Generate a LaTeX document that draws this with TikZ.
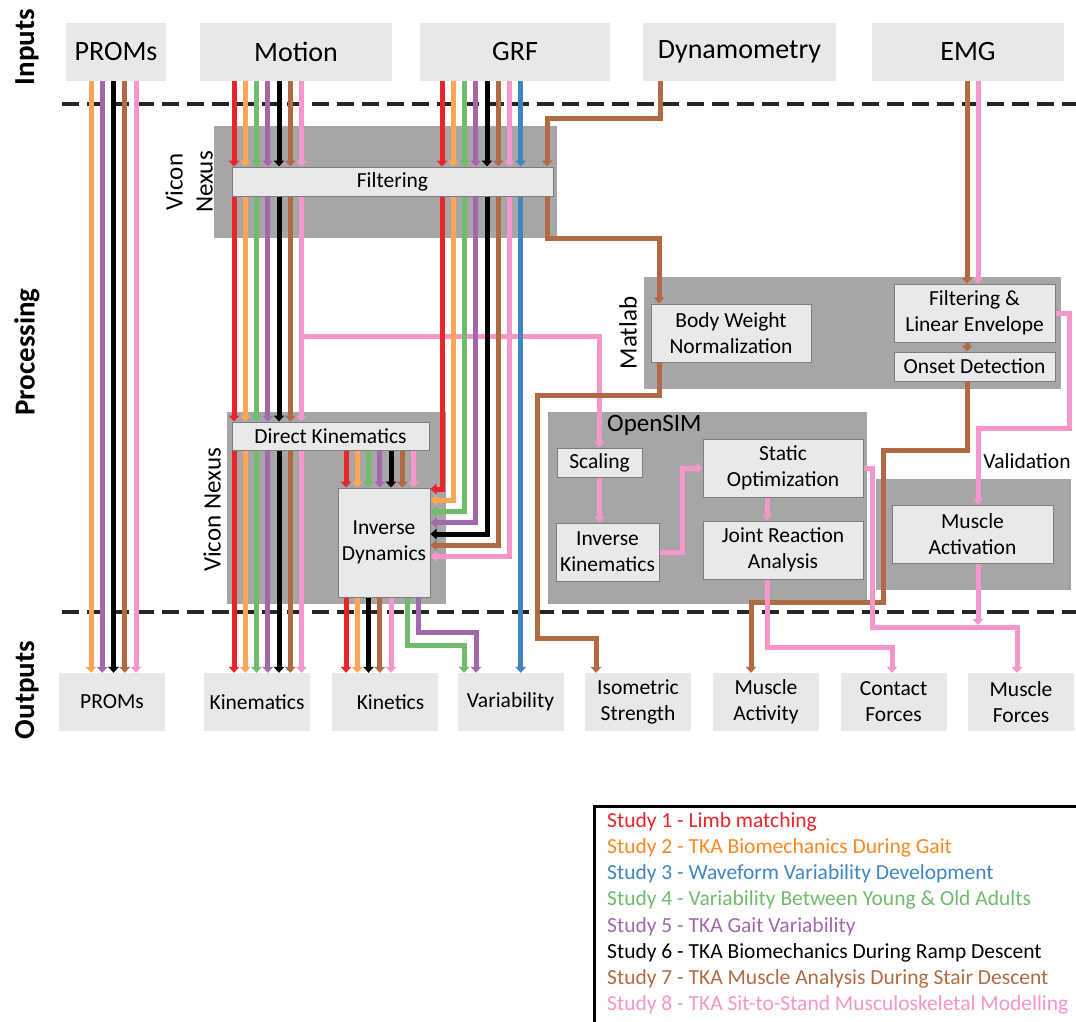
\documentclass[tikz,border=0pt]{standalone}
\usepackage{fontspec}
\setmainfont{Carlito}
\usetikzlibrary{arrows.meta}

\definecolor{studyRed}{RGB}{232,37,42}
\definecolor{studyOrange}{RGB}{255,165,85}
\definecolor{studyBlue}{RGB}{64,134,195}
\definecolor{studyGreen}{RGB}{112,188,108}
\definecolor{studyPurple}{RGB}{162,103,172}
\definecolor{studyBlack}{RGB}{0,0,0}
\definecolor{studyBrown}{RGB}{177,106,66}
\definecolor{studyPink}{RGB}{247,150,200}
\definecolor{legendOrange}{RGB}{252,136,32}
\definecolor{groupGray}{RGB}{166,166,166}
\definecolor{boxGray}{RGB}{233,233,233}
\definecolor{edgeGray}{RGB}{125,125,125}
\definecolor{ioGray}{RGB}{232,232,232}
\definecolor{sepGray}{RGB}{38,38,38}

\begin{document}
\begin{tikzpicture}[x=1pt, y=-1pt]
	\tikzset{
		every node/.style={font=\fontsize{21.5}{26}\selectfont, inner sep=0pt},
		io_box/.style={fill=ioGray, minimum width=106pt, minimum height=58pt, align=center},
		input_box/.style={io_box, font=\fontsize{28}{32}\selectfont},
		group_box/.style={fill=groupGray},
		step_box/.style={fill=boxGray, draw=edgeGray, line width=1pt, align=center},
		side_label/.style={rotate=90, font=\fontsize{29}{34}\selectfont\bfseries},
		tool_label/.style={font=\fontsize{25}{30}\selectfont, align=center},
		lane/.style={line width=5pt},
		flow_line/.style={lane, -{Triangle[width=10.5pt,length=6pt]}},
		stage_sep/.style={draw=sepGray, line width=4pt, dash pattern=on 17pt off 8pt}
	}
	\useasboundingbox (0,0) rectangle (1076,1021);
	\clip (0,0) rectangle (1076,1021);
	\fill[white] (0,0) rectangle (1076,1021);

	% stages
	\node[side_label] (labIn) at (27,47) {Inputs};
	\node[side_label] (labProc) at (27,352) {Processing};
	\node[side_label] (labOut) at (27,690) {Outputs};
	\draw[stage_sep] (62,104) -- (1076,104);
	\draw[stage_sep] (62,612) -- (1076,612);

	% inputs
	\node[input_box, minimum width=100pt] (inProms) at (116,52) {PROMs};
	\node[input_box, minimum width=192pt] (inMotion) at (296,52) {Motion};
	\node[input_box, minimum width=190pt] (inGRF) at (515,52) {GRF};
	\node[input_box, minimum width=193pt] (inDyn) at (739.5,52) {Dynamometry};
	\node[input_box, minimum width=192pt] (inEMG) at (968,52) {EMG};

	% outputs
	\node[io_box] (outProms) at (112,702) {PROMs};
	\node[io_box] (outKinem) at (257,702) {Kinematics};
	\node[io_box] (outKinet) at (384.5,702) {\hspace*{12pt}Kinetics};
	\node[io_box] (outVar) at (510.5,702) {Variability};
	\node[io_box] (outIso) at (638,702) {Isometric\\Strength};
	\node[io_box] (outMAct) at (766,702) {Muscle\\Activity};
	\node[io_box] (outCont) at (893.5,702) {Contact\\Forces};
	\node[io_box] (outMForce) at (1021,702) {Muscle\\Forces};

	% software groups
	\node[group_box, minimum width=343pt, minimum height=112pt] (gNexusTop) at (385.5,182) {};
	\node[group_box, minimum width=219pt, minimum height=192pt] (gNexusLow) at (336.5,508) {};
	\node[group_box, minimum width=417pt, minimum height=112pt] (gMatlab) at (852.5,333) {};
	\node[group_box, minimum width=319pt, minimum height=192pt] (gOpenSim) at (707.5,508) {};
	\node[group_box, minimum width=195pt, minimum height=111pt] (gValid) at (973.5,534.5) {};
	\node[tool_label, rotate=90] (labNexusTop) at (189,182) {Vicon\\Nexus};
	\node[tool_label, rotate=90] (labNexusLow) at (212,510) {Vicon Nexus};
	\node[tool_label, rotate=90] (labMatlab) at (628,333) {Matlab};
	\node[tool_label, anchor=west] (labOpenSim) at (607,425) {OpenSIM};
	\node (labValid) at (1027,461) {Validation};

	% processing steps
	\node[step_box, minimum width=321pt, minimum height=29pt] (filt) at (392.5,181.5) {Filtering};
	\node[step_box, minimum width=197pt, minimum height=28pt] (dirKin) at (330.5,436) {Direct Kinematics};
	\node[step_box, minimum width=92pt, minimum height=109pt] (invDyn) at (384,542.5) {Inverse\\Dynamics};
	\node[step_box, minimum width=160pt, minimum height=58pt] (bwNorm) at (731,333) {Body Weight\\Normalization};
	\node[step_box, minimum width=161pt, minimum height=58pt] (filtEnv) at (974.5,313) {Filtering \&\\Linear Envelope};
	\node[step_box, minimum width=161pt, minimum height=29pt] (onset) at (974.5,366.5) {Onset Detection};
	\node[step_box, minimum width=85pt, minimum height=29pt] (scaling) at (599.5,462.5) {Scaling};
	\node[step_box, minimum width=103pt, minimum height=58pt] (invKin) at (607.5,552) {Inverse\\Kinematics};
	\node[step_box, minimum width=160pt, minimum height=58pt] (statOpt) at (783,468) {Static\\Optimization};
	\node[step_box, minimum width=160pt, minimum height=58pt] (jra) at (783,550) {Joint Reaction\\Analysis};
	\node[step_box, minimum width=161pt, minimum height=58pt] (mAct) at (972.5,534) {Muscle\\Activation};

	% PROMs pass straight through
	\foreach \x/\col in {91/studyOrange, 102.25/studyPurple, 113.5/studyBlack, 124.75/studyBrown, 136/studyPink}
		\draw[flow_line, \col] (inProms.south -| \x,0) -- (outProms.north -| \x,0);

	% motion data
	\coordinate (pinkSplit) at (301.5,336);
	\draw[flow_line, studyPink] (pinkSplit) -| (scaling.north);
	\foreach \x/\col in {234/studyRed, 245.25/studyOrange, 256.5/studyGreen, 267.75/studyPurple, 279/studyBlack, 290.25/studyBrown, 301.5/studyPink} {
		\draw[flow_line, \col] (inMotion.south -| \x,0) -- (filt.north -| \x,0);
		\draw[flow_line, \col] (filt.south -| \x,0) -- (dirKin.north -| \x,0);
		\draw[flow_line, \col] (dirKin.south -| \x,0) -- (outKinem.north -| \x,0);
	}
	\foreach \x/\col in {346/studyRed, 357.25/studyOrange, 368.5/studyGreen, 379.75/studyPurple, 391/studyBlack, 402.25/studyBrown, 413.5/studyPink}
		\draw[flow_line, \col] (dirKin.south -| \x,0) -- (invDyn.north -| \x,0);

	% ground reaction forces
	\foreach \x/\y/\col in {442/489/studyRed, 453.25/500.25/studyOrange, 464.5/511.5/studyGreen, 475.75/522.75/studyPurple, 487/534/studyBlack, 498.25/545.25/studyBrown, 509.5/556.5/studyPink} {
		\draw[flow_line, \col] (inGRF.south -| \x,0) -- (filt.north -| \x,0);
		\draw[flow_line, \col] (filt.south -| \x,0) |- (invDyn.east |- 0,\y);
	}
	\draw[flow_line, studyBlue] (inGRF.south -| 520.75,0) -- (filt.north -| 520.75,0);
	\draw[flow_line, studyBlue] (filt.south -| 520.75,0) -- (outVar.north -| 520.75,0);

	% inverse dynamics outputs
	\foreach \x/\col in {346/studyRed, 357.25/studyOrange, 368.5/studyBlack, 379.75/studyBrown, 391/studyPink}
		\draw[flow_line, \col] (invDyn.south -| \x,0) -- (outKinet.north -| \x,0);
	\draw[flow_line, studyGreen] (invDyn.south -| 407,0) -- ++(0,48) -| (outVar.north -| 464,0);
	\draw[flow_line, studyPurple] (invDyn.south -| 418.5,0) -- ++(0,35) -| (outVar.north -| 476,0);

	% dynamometry
	\draw[flow_line, studyBrown] (inDyn.south -| 660,0) -- ++(0,37) -| (filt.north -| 547,0);
	\draw[flow_line, studyBrown] (filt.south -| 547,0) -- ++(0,42) -| (bwNorm.north -| 659,0);
	\draw[flow_line, studyBrown] (bwNorm.south -| 659,0) -- ++(0,33) -| ++(-122,243) -| (outIso.north -| 596,0);

	% EMG
	\draw[flow_line, studyBrown] (inEMG.south -| 967,0) -- (filtEnv.north -| 967,0);
	\draw[flow_line, studyPink] (inEMG.south -| 978,0) -- (filtEnv.north -| 978,0);
	\draw[flow_line, studyBrown] (filtEnv.south -| 967,0) -- (onset.north -| 967,0);
	\draw[flow_line, studyBrown] (onset.south -| 967,0) -- ++(0,69) -| ++(-84,152) -| (outMAct.north -| 751,0);
	\draw[flow_line, studyPink] (filtEnv.east) -- ++(14,0) -- ++(0,115) -| (mAct.north -| 978,0);

	% OpenSIM chain
	\draw[flow_line, studyPink] (scaling.south) -- (invKin.north -| scaling.south);
	\draw[flow_line, studyPink] (invKin.east) -- ++(23,0) |- (statOpt.west);
	\draw[flow_line, studyPink] (statOpt.south -| 767,0) -- (jra.north -| 767,0);
	\draw[flow_line, studyPink] (jra.south -| 767,0) -- ++(0,68) -| (outCont.north -| 892,0);
	\coordinate (forceJoin) at (978,625);
	\draw[flow_line, studyPink] (mAct.south -| 978,0) -- (forceJoin);
	\draw[flow_line, studyPink] (statOpt.east) -- ++(9,0) -- ++(0,159) -| (outMForce.north -| 1017,0);

	% legend
	\node[draw=black, line width=3pt, minimum width=520pt, minimum height=260pt, anchor=north west] (legendBox) at (593,805) {};
	\foreach \i/\col/\txt in {1/studyRed/Limb matching, 2/legendOrange/TKA Biomechanics During Gait, 3/studyBlue/Waveform Variability Development, 4/studyGreen/Variability Between Young \& Old Adults, 5/studyPurple/TKA Gait Variability, 6/studyBlack/TKA Biomechanics During Ramp Descent, 7/studyBrown/TKA Muscle Analysis During Stair Descent, 8/studyPink/TKA Sit-to-Stand Musculoskeletal Modelling}
		\node[anchor=west, text=\col] (leg\i) at (607, {822+26.1*(\i-1)}) {Study \i\ - \txt};
\end{tikzpicture}
\end{document}
